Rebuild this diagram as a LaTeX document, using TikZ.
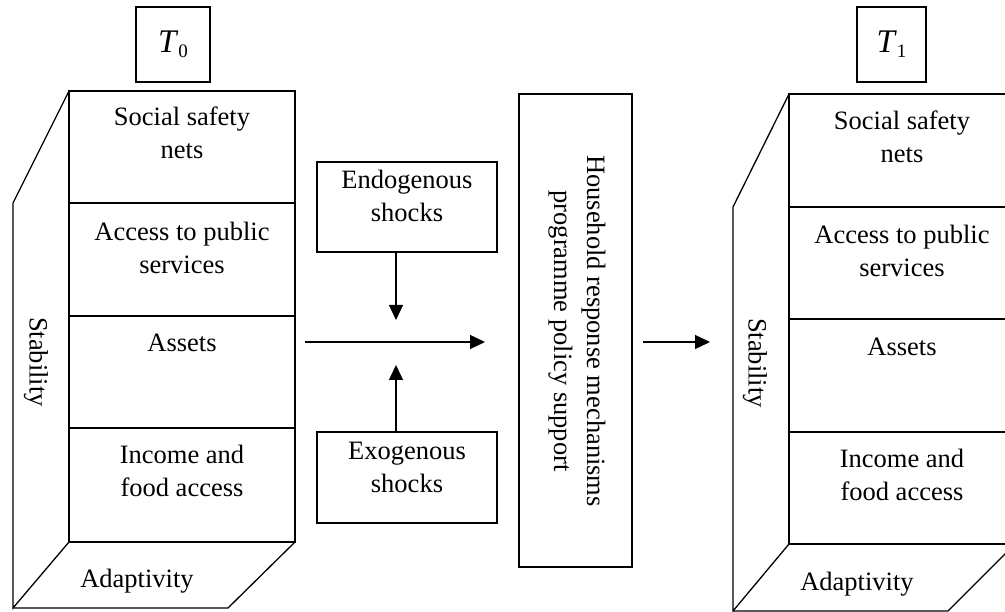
\documentclass[tikz,border=0pt]{standalone}
\usepackage{fontspec}
\setmainfont{Liberation Serif}
\usetikzlibrary{arrows.meta}
\begin{document}
\begin{tikzpicture}[x=1pt,y=-1pt,
  line width=1.3pt,
  lbl/.style={font=\fontsize{26.5}{33}\selectfont, align=center, inner sep=0pt},
  boxnode/.style={draw, rectangle, inner sep=0pt},
  flow/.style={-{Triangle[length=15pt,width=14pt]}},
  period/.style={boxnode, minimum height=75pt, font=\fontsize{33}{36}\selectfont},
]
\useasboundingbox (0,0) rectangle (1005,612);

% ---------- period T0 ----------
\node[period, minimum width=74pt] (t0) at (173,44.5)
      {\textit{T}\raisebox{-0.35ex}{\fontsize{19}{19}\selectfont 0}};

% front face with four layers
\draw (69,91) rectangle (295,542);
\draw (69,203) -- (295,203);
\draw (69,316) -- (295,316);
\draw (69,428) -- (295,428);
% side and bottom faces
\draw (69,91) -- (13,203) -- (13,608) -- (69,542);
\draw (13,608) -- (228,608) -- (295,542);

\node[lbl] (l1) at (182,133) {Social safety\\nets};
\node[lbl] (l2) at (182,248) {Access to public\\services};
\node[lbl] (l3) at (182,343) {Assets};
\node[lbl] (l4) at (182,471) {Income and\\food access};
\node[lbl, rotate=-90] (lst) at (36,362) {Stability};
\node[lbl] (lad) at (137,581) {Adaptivity};

% ---------- shocks ----------
\node[boxnode, minimum width=180pt, minimum height=90pt] (endo) at (407,207) {};
\node[lbl] at (407,196) {Endogenous\\shocks};
\node[boxnode, minimum width=180pt, minimum height=91pt] (exo) at (407,477.5) {};
\node[lbl] at (407,467) {Exogenous\\shocks};

\coordinate (mid1) at (305,342);
\coordinate (mid2) at (485,342);
\coordinate (endoTip) at (396,320);
\coordinate (exoTip) at (396,365);
\draw[flow] (mid1) -- (mid2);
\draw[flow] (endo.south -| endoTip) -- (endoTip);
\draw[flow] (exo.north -| exoTip) -- (exoTip);

% ---------- response box ----------
\node[boxnode, minimum width=113pt, minimum height=473pt] (resp) at (575.5,330.5) {};
\node[lbl, rotate=-90] at (577,331)
  {Household response mechanisms\\programme policy support};

\coordinate (out1) at (643,342);
\coordinate (out2) at (710,342);
\draw[flow] (out1) -- (out2);

% ---------- period T1 ----------
\node[period, minimum width=69pt] (t1) at (891.5,44.5)
      {\textit{T}\raisebox{-0.35ex}{\fontsize{19}{19}\selectfont 1}};

\draw (789,94) rectangle (1015,544);
\draw (789,207) -- (1015,207);
\draw (789,319) -- (1015,319);
\draw (789,432) -- (1015,432);
\draw (789,94) -- (733,207) -- (733,611) -- (789,544);
\draw (733,611) -- (948,611) -- (1015,544);

\node[lbl] (r1) at (902,137) {Social safety\\nets};
\node[lbl] (r2) at (902,251) {Access to public\\services};
\node[lbl] (r3) at (902,347) {Assets};
\node[lbl] (r4) at (902,475) {Income and\\food access};
\node[lbl, rotate=-90] (rst) at (755,363) {Stability};
\node[lbl] (rad) at (857,584) {Adaptivity};
\end{tikzpicture}
\end{document}
